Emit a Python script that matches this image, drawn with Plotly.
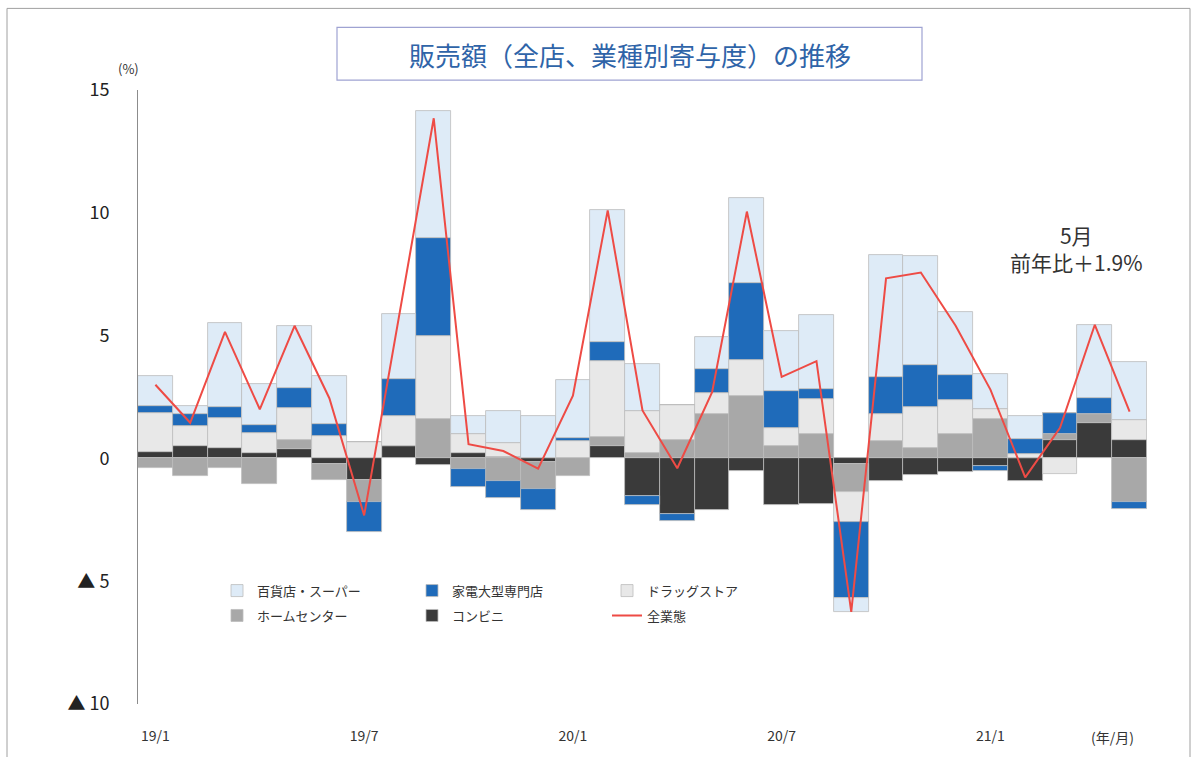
import plotly.graph_objects as go

months = ["19/1","19/2","19/3","19/4","19/5","19/6","19/7","19/8","19/9","19/10","19/11","19/12",
          "20/1","20/2","20/3","20/4","20/5","20/6","20/7","20/8","20/9","20/10","20/11","20/12",
          "21/1","21/2","21/3","21/4","21/5"]

conv = [0.28,0.51,0.42,0.20,0.38,-0.23,-0.88,0.49,-0.27,0.20,0.05,-0.16,0.00,0.51,-1.55,-2.25,-2.12,-0.53,-1.88,-1.85,-0.23,-0.93,-0.67,-0.57,-0.30,-0.93,0.74,1.46,0.74]
home = [-0.39,-0.70,-0.39,-1.04,0.36,-0.65,-0.90,0.00,1.59,-0.43,-0.90,-1.08,-0.70,0.37,0.24,0.74,1.79,2.54,0.50,0.99,-1.15,0.69,0.42,0.99,1.59,0.00,0.27,0.33,-1.78]
drug = [1.58,0.81,1.24,0.85,1.32,0.92,0.65,1.24,3.41,0.79,0.58,0.00,0.70,3.07,1.69,1.43,0.88,1.48,0.75,1.44,-1.21,1.10,1.68,1.37,0.43,0.17,-0.63,0.00,0.81]
elec = [0.27,0.50,0.43,0.31,0.79,0.50,-1.21,1.51,3.99,-0.72,-0.70,-0.88,0.13,0.79,-0.33,-0.30,0.95,3.11,1.48,0.38,-3.10,1.53,1.72,1.05,-0.20,0.61,0.85,0.68,-0.27]
dept = [1.24,0.31,3.42,1.68,2.55,1.95,0.00,2.64,5.15,0.74,1.31,1.73,2.38,5.39,1.92,0.00,1.31,3.48,2.47,3.01,-0.58,4.95,4.41,2.54,1.42,0.95,0.00,2.97,2.36]
total = [3.0,1.45,5.15,2.0,5.4,2.45,-2.32,5.8,13.85,0.58,0.3,-0.42,2.55,10.1,1.95,-0.4,2.7,10.05,3.32,3.96,-6.25,7.33,7.57,5.4,2.8,-0.77,1.25,5.44,1.9]

x_ticks = ["19/1","19/7","20/1","20/7","21/1"]
y_vals = [15, 10, 5, 0, -5, -10]
y_text = ["15", "10", "5", "0", "▲ 5", "▲ 10"]

FONT = "Noto Sans CJK JP"
edge = "#BDBDBD"

fig = go.Figure()

# stacking order (from zero outward): コンビニ, ホームセンター, ドラッグストア, 家電, 百貨店
series = [
    ("コンビニ", conv, "#3A3A3A", "legend2", 2),
    ("ホームセンター", home, "#A8A8A8", "legend2", 1),
    ("ドラッグストア", drug, "#E8E8E8", "legend", 3),
    ("家電大型専門店", elec, "#1F6BBA", "legend", 2),
    ("百貨店・スーパー", dept, "#DEEBF7", "legend", 1),
]
for name, vals, color, leg, rank in series:
    fig.add_trace(go.Bar(
        x=months, y=vals, name=name, legend=leg, legendrank=rank,
        marker=dict(color=color, line=dict(color=edge, width=0.8)),
    ))

fig.add_trace(go.Scatter(
    x=months, y=total, name="全業態", mode="lines", legend="legend2", legendrank=3,
    line=dict(color="#EE4B45", width=2),
))

W, H = 1197, 757
L, R, T, B = 138, 50, 90, 50
pw, ph = W - L - R, H - T - B

def px(x):
    return (x - L) / pw

def py(y):
    return (H - B - y) / ph

fig.update_layout(
    width=W, height=H,
    margin=dict(l=L, r=R, t=T, b=B),
    paper_bgcolor="white", plot_bgcolor="white",
    barmode="relative", bargap=0,
    font=dict(family=FONT, color="#333333"),
    xaxis=dict(
        type="category", categoryorder="array", categoryarray=months,
        range=[-0.5, len(months) - 0.5],
        tickmode="array", tickvals=x_ticks, ticktext=x_ticks,
        showline=False, showgrid=False, zeroline=False, ticks="",
        tickfont=dict(size=14, color="#333333"),
        ticklabelstandoff=22,
    ),
    yaxis=dict(
        range=[-10, 15], tickmode="array", tickvals=y_vals, ticktext=y_text,
        showline=True, linecolor="#8C8C8C", linewidth=1,
        showgrid=False, zeroline=False, ticks="",
        tickfont=dict(size=18, color="#222222"),
        ticklabelstandoff=24,
    ),
    legend=dict(
        orientation="h", x=px(217), y=py(578), xanchor="left", yanchor="top",
        entrywidth=150, entrywidthmode="pixels", traceorder="normal",
        font=dict(size=13, color="#333333"), bgcolor="rgba(0,0,0,0)",
    ),
    legend2=dict(
        orientation="h", x=px(217), y=py(603), xanchor="left", yanchor="top",
        entrywidth=150, entrywidthmode="pixels", traceorder="normal",
        font=dict(size=13, color="#333333"), bgcolor="rgba(0,0,0,0)",
    ),
    showlegend=True,
)

# outer frame
fig.add_shape(type="rect", xref="paper", yref="paper",
              x0=px(7), x1=px(1190), y0=py(762), y1=py(8),
              line=dict(color="#A0A0A0", width=1), fillcolor="rgba(0,0,0,0)", layer="below")
# title box
fig.add_shape(type="rect", xref="paper", yref="paper",
              x0=px(337), x1=px(922), y0=py(80), y1=py(27),
              line=dict(color="#9FA3D2", width=1.2), fillcolor="white")
fig.add_annotation(xref="paper", yref="paper", x=px(629.5), y=py(54),
                   text="販売額（全店、業種別寄与度）の推移", showarrow=False,
                   font=dict(size=26, color="#2F64A8", family=FONT),
                   xanchor="center", yanchor="middle")
fig.add_annotation(xref="paper", yref="paper", x=px(128), y=py(68),
                   text="(%)", showarrow=False, font=dict(size=13, color="#333333"),
                   xanchor="center", yanchor="middle")
fig.add_annotation(xref="paper", yref="paper", x=px(1112), y=py(740),
                   text="(年/月)", showarrow=False, font=dict(size=14, color="#333333"),
                   xanchor="center", yanchor="middle")
fig.add_annotation(xref="paper", yref="paper", x=px(1076), y=py(249),
                   text="5月<br>前年比＋1.9%", showarrow=False, align="center",
                   font=dict(size=21, color="#333333"),
                   xanchor="center", yanchor="middle")

fig.write_html("out.html")
